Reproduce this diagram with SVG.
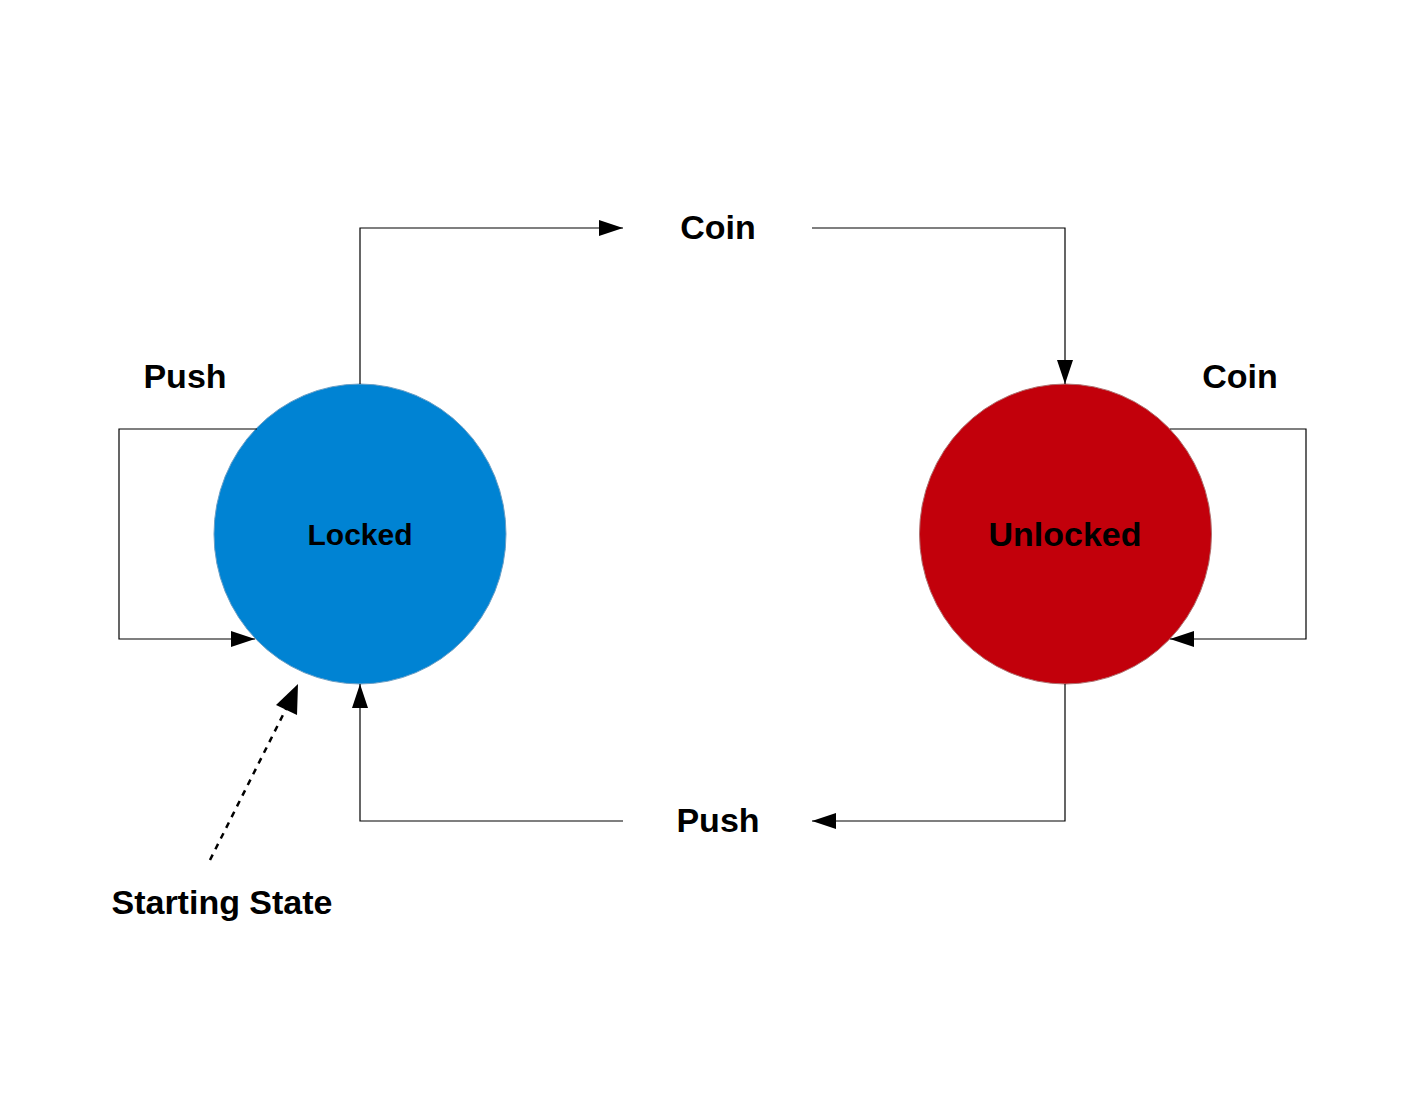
<svg xmlns="http://www.w3.org/2000/svg" width="1419" height="1097" viewBox="0 0 1419 1097">
<style>
text{font-family:"Liberation Sans",Arial,sans-serif;font-weight:bold;fill:#000}
.lbl{font-size:34px}
.edge{fill:none;stroke:#000;stroke-width:1.2}
.dot{fill:none;stroke:#000;stroke-width:2.5;stroke-dasharray:6,6}
</style>
<defs>
<marker id="ah" viewBox="0 0 24 16" refX="24" refY="8" markerWidth="24" markerHeight="16" markerUnits="userSpaceOnUse" orient="auto">
<path d="M0,0 L24,8 L0,16 Z" fill="#000"/>
</marker>
</defs>
<rect width="1419" height="1097" fill="#fff"/>
<g id="node-locked">
<ellipse cx="360" cy="534" rx="146" ry="150" fill="#0083d3" stroke="#6a9fc6" stroke-width="1"/>
<text x="360" y="545" font-size="30" text-anchor="middle">Locked</text>
</g>
<g id="node-unlocked">
<ellipse cx="1065.5" cy="534" rx="146" ry="150" fill="#c2000b" stroke="#b07070" stroke-width="1"/>
<text x="1065" y="546" font-size="34" text-anchor="middle">Unlocked</text>
</g>
<g id="connectors">
<path class="edge" d="M360,384 V228 H623" marker-end="url(#ah)"/>
<path class="edge" d="M812,228 H1065 V384" marker-end="url(#ah)"/>
<path class="edge" d="M257,429 H119 V639 H255" marker-end="url(#ah)"/>
<path class="edge" d="M1170,429 H1306 V639 H1170" marker-end="url(#ah)"/>
<path class="edge" d="M1065,684 V821 H812" marker-end="url(#ah)"/>
<path class="edge" d="M623,821 H360 V684" marker-end="url(#ah)"/>
<line class="dot" x1="210" y1="860" x2="289" y2="703"/>
<path d="M298,684 L297,715 L276,705 Z" fill="#000"/>
</g>
<g id="labels">
<text class="lbl" x="718" y="239" text-anchor="middle">Coin</text>
<text class="lbl" x="718" y="832" text-anchor="middle">Push</text>
<text class="lbl" x="185" y="388" text-anchor="middle">Push</text>
<text class="lbl" x="1240" y="388" text-anchor="middle">Coin</text>
<text class="lbl" x="222" y="914" text-anchor="middle">Starting State</text>
</g>
</svg>
